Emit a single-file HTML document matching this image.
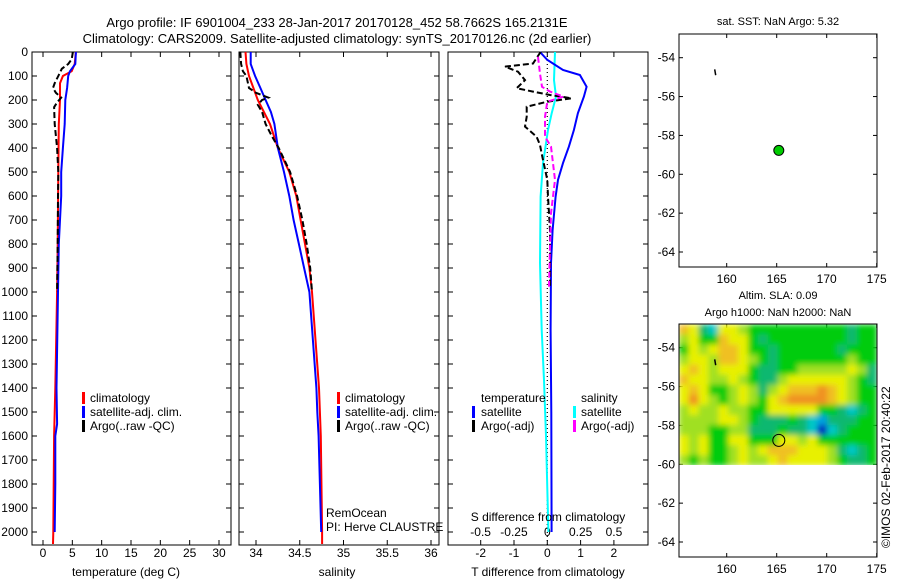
<!DOCTYPE html>
<html><head><meta charset="utf-8"><style>
body{margin:0;background:#fff}
svg{display:block;font-family:"Liberation Sans",sans-serif}
text{font-size:12px;fill:#000}
</style></head><body>
<svg id="c" width="900" height="580" viewBox="0 0 900 580">
<defs>
<filter id="blur" x="0" y="0" width="1" height="1"><feGaussianBlur stdDeviation="3" edgeMode="duplicate"/></filter>
<clipPath id="hmclip"><rect x="679" y="324" width="198" height="141"/></clipPath>
</defs>
<text x="337" y="27" text-anchor="middle" style="font-size:13px">Argo profile: IF 6901004_233 28-Jan-2017 20170128_452 58.7662S 165.2131E</text>
<text x="337" y="43" text-anchor="middle" style="font-size:13px">Climatology: CARS2009. Satellite-adjusted climatology: synTS_20170126.nc (2d earlier)</text>
<g id="g"></g>
</svg>
<script>
// ---------- data ----------
const depthTicks=[0,100,200,300,400,500,600,700,800,900,1000,1100,1200,1300,1400,1500,1600,1700,1800,1900,2000];
const tempTicks=[0,5,10,15,20,25,30];
const salTicks=[34,34.5,35,35.5,36];
const tdTicks=[-2,-1,0,1,2];
const sdTicks=[-0.5,-0.25,0,0.25,0.5];
const sdTickLabels=["-0.5","-0.25","0","0.25","0.5"];
const lonTicks=[160,165,170,175];
const latTicks=[-54,-56,-58,-60,-62,-64];

const climDepth=[0,50,80,100,130,200,300,500,800,1000,1400,1600,2000,2050];
const climTemp=[5.6,5.4,4.9,3.4,2.9,2.9,2.7,2.6,2.5,2.4,2.1,1.9,1.75,1.7];
const satDepth=[0,50,80,100,150,200,300,400,500,600,700,800,1000,1400,1550,1600,1800,2000];
const satTemp=[5.6,5.5,4.6,4.3,4.1,3.8,3.7,3.4,3.1,3.1,2.9,2.7,2.55,2.3,2.4,2.1,2.1,2.0];
const argoDepth=[0,30,50,70,100,130,150,170,190,210,230,300,400,500,600,800,1000];
const argoTemp=[5.1,4.9,4.3,3.2,2.6,2.0,1.7,2.2,3.1,2.4,1.9,2.0,2.4,2.6,2.55,2.5,2.4];

const climSalDepth=[0,50,100,150,200,250,300,400,500,600,700,800,900,1000,1400,1600,2000,2050];
const climSal=[33.88,33.89,33.92,33.97,34.02,34.09,34.16,34.25,34.38,34.46,34.51,34.56,34.61,34.64,34.72,34.74,34.755,34.755];
const satSalDepth=[0,50,100,150,200,250,300,400,500,600,700,800,900,1000,1400,1500,1600,1800,2000];
const satSal=[33.94,33.94,33.99,34.05,34.11,34.17,34.21,34.25,34.32,34.38,34.43,34.49,34.55,34.61,34.69,34.70,34.715,34.73,34.745];
const argoSalDepth=[0,50,80,100,150,170,190,200,220,250,300,350,400,500,600,700,800,900,1000];
const argoSal=[33.82,33.83,33.85,33.89,33.92,34.0,34.14,34.07,34.02,34.07,34.11,34.18,34.26,34.39,34.47,34.53,34.58,34.62,34.64];

const satTdDepth=[0,33,75,96,145,186,255,325,394,463,533,603,742,880,1158,1500,2000];
const satTd=[-0.22,0,0.47,0.98,1.18,1.1,0.92,0.8,0.65,0.47,0.32,0.25,0.16,0.11,0.1,0.12,0.13];
const argoTdDepth=[0,48,61,82,117,151,165,179,193,207,228,270,311,353,387,422,533,603,742,880,978];
const argoTd=[-0.2,-0.43,-1.27,-0.88,-0.67,-0.92,-0.43,0.08,0.73,0,-0.62,-0.62,-0.67,-0.32,-0.22,-0.17,0,0.02,0.08,0.08,0.08];
const argoSdDepth=[20,90,145,165,186,207,270,353,394,533,672,811,978];
const argoSd=[-0.07,-0.055,-0.04,0.02,0.12,0,-0.017,-0.017,0.028,0.058,0.028,0.02,0.013];
const satSdDepth=[0,117,186,255,325,463,603,880,1158,1367,1600,2000];
const satSd=[0.058,0.05,0.065,0.033,0.005,-0.032,-0.05,-0.055,-0.042,-0.025,-0.01,0.008];

const argoLon=165.21, argoLat=-58.77;
const floatTrackLon=[158.8,158.9], floatTrackLat=[-54.6,-54.9];
// SLA grid rows (north to south), level 0(blue)..8(orange)
const slaGrid=[
[7,6,3,2,6,6,5,4,4,4,4,4,4,4,4,4,4,3,4,4],
[5,6,4,4,7,6,6,4,3,4,4,4,4,4,4,4,4,3,4,4],
[4,6,5,6,7,7,6,4,4,3,4,4,4,4,4,4,3,4,4,4],
[5,6,6,5,7,7,6,5,4,3,4,4,4,4,4,4,4,5,4,4],
[6,7,6,5,6,6,6,4,3,3,4,4,5,5,5,5,5,6,5,3],
[7,6,6,5,5,6,5,4,3,3,5,6,6,6,6,6,6,5,4,3],
[6,7,6,4,4,5,6,5,3,5,6,7,7,7,8,7,6,5,4,4],
[6,8,6,5,4,5,6,5,4,6,7,8,8,8,8,7,6,5,4,4],
[5,6,5,5,6,5,5,4,4,6,6,6,6,6,4,4,3,2,3,4],
[5,5,5,5,6,6,5,4,3,3,3,4,3,2,1,3,3,3,4,4],
[5,5,5,4,4,5,5,3,3,3,4,3,3,2,0,2,3,4,4,4],
[6,5,6,4,4,6,6,4,4,4,6,6,5,6,4,4,4,4,4,4],
[6,5,6,4,4,5,6,5,6,7,7,7,6,6,6,5,3,2,3,4],
[5,4,5,4,4,5,6,5,5,6,7,6,6,6,6,5,4,3,3,4]];
const slaLonRange=[155.2,175.0], slaLatRange=[-52.8,-60.05];
const slaColors=["#0020c0","#00a0e0","#00c8c8","#10b870","#00cc10","#a0e020","#e8f000","#f0c020","#f09020"];

// ---------- helpers ----------
const NS="http://www.w3.org/2000/svg";
const G=document.getElementById('g');
function mk(tag,attrs,parent){const e=document.createElementNS(NS,tag);for(const k in attrs)e.setAttribute(k,attrs[k]);(parent||G).appendChild(e);return e;}
const Y0=52,Y1=545;
const yD=d=>Y0+d*0.24;
function lin(d0,d1,r0,r1){return v=>r0+(v-d0)*(r1-r0)/(d1-d0);}
function line(xs,ds,fx,fy,color,dash,name){
  const p=xs.map((v,i)=>fx(v).toFixed(1)+','+fy(ds[i]).toFixed(1)).join(' ');
  const e=mk('polyline',{points:p,fill:'none',stroke:color,'stroke-width':2,'stroke-dasharray':dash||'none'});
  
  
}
function frame(x0,x1,y0,y1,name){
  const e=mk('rect',{x:x0,y:y0,width:x1-x0,height:y1-y0,fill:'none',stroke:'#000','stroke-width':1});
  
  
}
function txt(x,y,s,anchor,name,extra){
  const e=mk('text',Object.assign({x:x,y:y,'text-anchor':anchor||'start'},extra||{}));e.textContent=s;
  
  
  return e;
}
function tick(x1,y1,x2,y2){mk('line',{x1:x1,y1:y1,x2:x2,y2:y2,stroke:'#000','stroke-width':1});}
function depthAxis(x0,x1,labels){
  depthTicks.forEach(d=>{const y=yD(d);tick(x0,y,x0+5,y);tick(x1,y,x1-5,y);
    if(labels)txt(x0-4,y+4,String(d),'end','depth-tick-label');});
}
function xTicks(vals,fx,x0,x1,labs,ly,name){
  vals.forEach((v,i)=>{const x=fx(v);tick(x,Y0,x,Y0+5);tick(x,Y1,x,Y1-5);
    if(labs)txt(x,ly,labs[i],'middle',name);});
}
function legMark(x,y,c){const e=mk('rect',{x:x,y:y-10,width:3,height:12,fill:c});
  
  }

// ---------- panel 1: temperature ----------
const fT=lin(0,30,43,219);
frame(32,231,Y0,Y1,'temperature-panel');
depthAxis(32,231,true);
xTicks(tempTicks,fT,32,231,tempTicks.map(String),557,'temperature-tick-label');
line(climTemp,climDepth,fT,yD,'#ff0000',null,'temperature-climatology-line');
line(satTemp,satDepth,fT,yD,'#0000ff',null,'temperature-satellite-line');
line(argoTemp,argoDepth,fT,yD,'#000000','6,3','temperature-argo-line');
txt(126,576,'temperature (deg C)','middle','temperature-x-axis-title');
legMark(82,402,'#ff0000');txt(90,402,'climatology','start','legend-climatology');
legMark(82,416,'#0000ff');txt(90,416,'satellite-adj. clim.','start','legend-satellite');
legMark(82,430,'#000');txt(90,430,'Argo(..raw -QC)','start','legend-argo');

// ---------- panel 2: salinity ----------
const fS=lin(34,36,256,431);
frame(239,439,Y0,Y1,'salinity-panel');
depthAxis(239,439,false);
xTicks(salTicks,fS,239,439,salTicks.map(String),557,'salinity-tick-label');
line(climSal,climSalDepth,fS,yD,'#ff0000',null,'salinity-climatology-line');
line(satSal,satSalDepth,fS,yD,'#0000ff',null,'salinity-satellite-line');
line(argoSal,argoSalDepth,fS,yD,'#000000','6,3','salinity-argo-line');
txt(337,576,'salinity','middle','salinity-x-axis-title');
legMark(337,402,'#ff0000');txt(345,402,'climatology','start','legend-climatology');
legMark(337,416,'#0000ff');txt(345,416,'satellite-adj. clim.','start','legend-satellite');
legMark(337,430,'#000');txt(345,430,'Argo(..raw -QC)','start','legend-argo');
txt(326,517,'RemOcean','start','operator-label');
txt(326,531,'PI: Herve CLAUSTRE','start','pi-label');

// ---------- panel 3: differences ----------
const fTd=lin(0,1,547.3,580.6);
const fSd=lin(0,1,547.3,680.6);
frame(448,648,Y0,Y1,'difference-panel');
depthAxis(448,648,false);
xTicks(tdTicks,fTd,448,648,tdTicks.map(String),557,'t-difference-tick-label');
sdTicks.forEach((v,i)=>txt(fSd(v),536,sdTickLabels[i],'middle','s-difference-tick-label'));
mk('line',{x1:fTd(0),y1:Y0,x2:fTd(0),y2:Y1,stroke:'#000','stroke-width':1.2,'stroke-dasharray':'1,3'});
line(satSd,satSdDepth,fSd,yD,'#00ffff',null,'salinity-diff-satellite-line');
line(satTd,satTdDepth,fTd,yD,'#0000ff',null,'temperature-diff-satellite-line');
line(argoTd,argoTdDepth,fTd,yD,'#000000','6,3','temperature-diff-argo-line');
line(argoSd,argoSdDepth,fSd,yD,'#ff00ff','6,3','salinity-diff-argo-line');
txt(548,521,'S difference from climatology','middle','s-difference-axis-title');
txt(548,576,'T difference from climatology','middle','t-difference-axis-title');
txt(481,402,'temperature','start','legend-temperature-header');
txt(581,402,'salinity','start','legend-salinity-header');
legMark(472,416,'#0000ff');txt(481,416,'satellite','start','legend-temp-satellite');
legMark(472,430,'#000');txt(481,430,'Argo(-adj)','start','legend-temp-argo');
legMark(573,416,'#00ffff');txt(581,416,'satellite','start','legend-sal-satellite');
legMark(573,430,'#ff00ff');txt(581,430,'Argo(-adj)','start','legend-sal-argo');

// ---------- maps ----------
function mapAxes(top,bottom,name){
  const fx=lin(160,175,726.7,876.7), fy=lin(-54,-64,top+23.7,top+23.7+194.3);
  frame(679,877,top,bottom,name);
  lonTicks.forEach(v=>{const x=fx(v);tick(x,top,x,top+4);tick(x,bottom,x,bottom-4);txt(x,bottom+16,String(v),'middle','longitude-tick-label');});
  latTicks.forEach(v=>{const y=fy(v);tick(679,y,683,y);tick(877,y,873,y);txt(675,y+4,String(v),'end','latitude-tick-label');});
  return [fx,fy];
}
// map 1
let [mx,my]=mapAxes(34,267,'sst-map');
txt(778,25,'sat. SST: NaN Argo: 5.32','middle','sst-map-title',{style:'font-size:11px'});
mk('line',{x1:mx(floatTrackLon[0]),y1:my(floatTrackLat[0]),x2:mx(floatTrackLon[1]),y2:my(floatTrackLat[1]),stroke:'#000','stroke-width':1.5});
const dot=mk('circle',{cx:mx(argoLon),cy:my(argoLat),r:5,fill:'#00cc00',stroke:'#000','stroke-width':1});


// map 2
const hmc=mk('g',{'clip-path':'url(#hmclip)'});
const hm=mk('g',{filter:'url(#blur)'},hmc);


[mx,my]=mapAxes(324,557,'sla-map');
const rows=slaGrid.length, cols=slaGrid[0].length;
const hx0=mx(slaLonRange[0]),hx1=mx(slaLonRange[1]),hy0=my(slaLatRange[0]),hy1=my(slaLatRange[1]);
const cw=(hx1-hx0)/cols, ch=(hy1-hy0)/rows;
slaGrid.forEach((r,i)=>r.forEach((v,j)=>{
  const c=mk('rect',{x:(hx0+j*cw).toFixed(2),y:(hy0+i*ch).toFixed(2),width:(cw+0.6).toFixed(2),height:(ch+0.6).toFixed(2),fill:slaColors[v]},hm);
  
  
}));
G.appendChild(hmc);
frame(679,877,324,557,'sla-map-frame');
mk('line',{x1:mx(floatTrackLon[0]),y1:my(floatTrackLat[0]),x2:mx(floatTrackLon[1]),y2:my(floatTrackLat[1]),stroke:'#000','stroke-width':1.5});
const ring=mk('circle',{cx:mx(argoLon),cy:my(argoLat),r:6,fill:'none',stroke:'#000','stroke-width':1});


txt(778,299,'Altim. SLA: 0.09','middle','sla-map-title',{style:'font-size:11px'});
txt(778,316,'Argo h1000: NaN h2000: NaN','middle','dynamic-height-title',{style:'font-size:11px'});
txt(0,0,'©IMOS 02-Feb-2017 20:40:22','start','copyright-label',{transform:'translate(890,548) rotate(-90)'});
</script>
</body></html>
